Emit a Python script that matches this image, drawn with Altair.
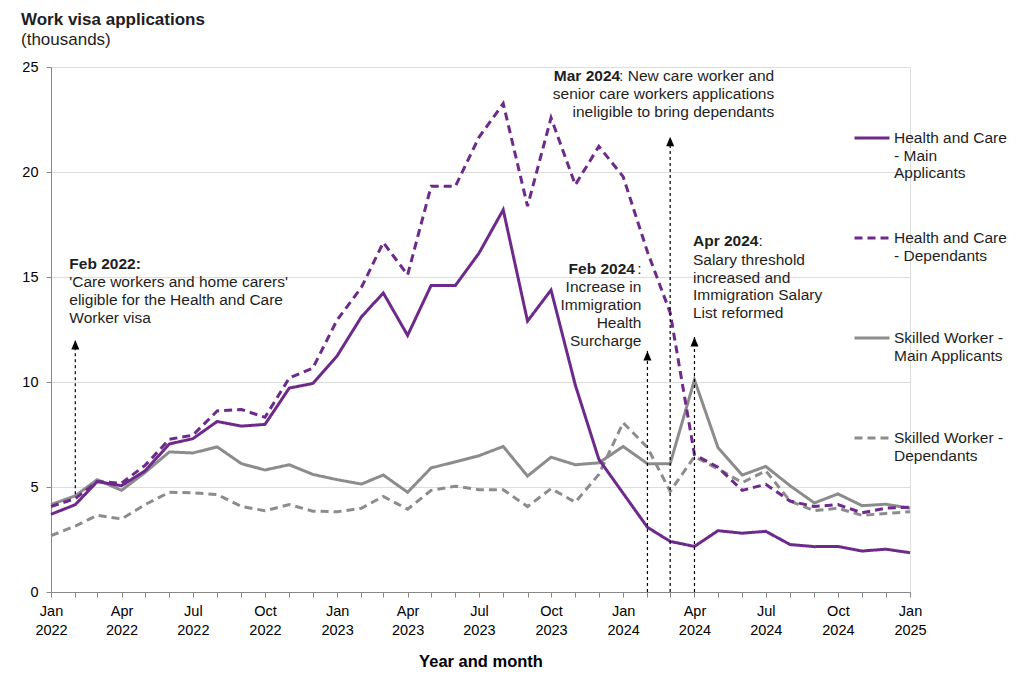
import altair as alt
import pandas as pd

FONT = "Liberation Sans"
PURPLE = "#6E2A8A"
GREY = "#8C8C8C"
TEXT = "#1e1e1e"

HC_MAIN = "Health and Care - Main Applicants"
HC_DEP = "Health and Care - Dependants"
SW_MAIN = "Skilled Worker - Main Applicants"
SW_DEP = "Skilled Worker - Dependants"

# monthly, Jan 2022 .. Jan 2025 (thousands)
hc_main = [3.70, 4.16, 5.26, 5.06, 5.77, 7.05, 7.30, 8.12, 7.90, 7.98, 9.71, 9.93,
           11.24, 13.10, 14.24, 12.22, 14.60, 14.60, 16.13, 18.20, 12.90, 14.38, 9.85, 6.32,
           4.70, 3.08, 2.41, 2.17, 2.92, 2.80, 2.89, 2.26, 2.16, 2.17, 1.95, 2.04,
           1.87]
hc_dep = [4.07, 4.45, 5.26, 5.18, 6.03, 7.27, 7.47, 8.62, 8.69, 8.32, 10.19, 10.66,
          12.95, 14.50, 16.64, 15.10, 19.32, 19.32, 21.65, 23.26, 18.37, 22.58, 19.39, 21.22,
          19.78, 16.20, 13.30, 6.54, 5.94, 4.84, 5.13, 4.33, 4.07, 4.16, 3.77, 3.99,
          4.04]
sw_main = [4.16, 4.58, 5.35, 4.84, 5.69, 6.67, 6.62, 6.91, 6.11, 5.81, 6.06, 5.60,
           5.35, 5.14, 5.57, 4.75, 5.91, 6.20, 6.49, 6.93, 5.52, 6.42, 6.06, 6.15,
           6.93, 6.11, 6.11, 10.10, 6.88, 5.57, 5.98, 5.06, 4.24, 4.67, 4.11, 4.18,
           3.99]
sw_dep = [2.68, 3.14, 3.65, 3.48, 4.16, 4.75, 4.72, 4.64, 4.07, 3.87, 4.16, 3.85,
          3.82, 3.99, 4.55, 3.94, 4.84, 5.04, 4.87, 4.87, 4.07, 4.92, 4.28, 5.60,
          8.06, 6.88, 4.79, 6.45, 5.86, 5.21, 5.77, 4.33, 3.87, 3.99, 3.65, 3.74,
          3.82]

months = pd.date_range("2022-01-01", "2025-01-01", freq="MS").strftime("%Y-%m-%dT00:00:00").tolist()

series_order = [HC_MAIN, HC_DEP, SW_MAIN, SW_DEP]
series_colors = [PURPLE, PURPLE, GREY, GREY]
series_dash = [[1, 0], [8, 5], [1, 0], [8, 5]]

# annotation events: date, arrow base value, arrow tip value
ann_dates = ["2022-02-01T00:00:00", "2024-02-01T00:00:00", "2024-03-01T00:00:00", "2024-04-01T00:00:00"]
ann_base = [4.65, 0, 0, 0]
ann_tip = [12.0, 11.48, 21.68, 12.14]

feb22_head = "Feb 2022:"
feb22_body = ["'Care workers and home carers'", "eligible for the Health and Care", "Worker visa"]
feb24_head = "Feb 2024"
feb24_body = ["Increase in", "Immigration", "Health", "Surcharge"]
mar24_head = "Mar 2024"
mar24_rest = ": New care worker and"
mar24_body = ["senior care workers applications", "ineligible to bring dependants"]
apr24_head = "Apr 2024"
apr24_body = ["Salary threshold", "increased and", "Immigration Salary", "List reformed"]

rows = []
for name, vals in [(SW_DEP, sw_dep), (SW_MAIN, sw_main), (HC_DEP, hc_dep), (HC_MAIN, hc_main)]:
    for m, v in zip(months, vals):
        rows.append({"date": m, "value": v, "series": name})
df = pd.DataFrame(rows)

x_scale = alt.Scale(domain=[alt.DateTime(year=2022, month=1, date=1),
                            alt.DateTime(year=2025, month=1, date=1)], nice=False)
y_scale = alt.Scale(domain=[0, 25], nice=False)

legend_expr = (
    f"datum.label == '{HC_MAIN}' ? ['Health and Care', '- Main', 'Applicants'] : "
    f"datum.label == '{HC_DEP}' ? ['Health and Care', '- Dependants'] : "
    f"datum.label == '{SW_MAIN}' ? ['Skilled Worker -', 'Main Applicants'] : "
    f"['Skilled Worker -', 'Dependants']"
)
legend = alt.Legend(title=None, orient="none", legendX=802, legendY=21, clipHeight=100,
                    rowPadding=0, padding=0, symbolType="stroke", symbolStrokeWidth=3,
                    symbolSize=1225, labelFontSize=15.5, labelFont=FONT, labelColor=TEXT,
                    labelOffset=3, labelExpr=legend_expr, labelBaseline="middle", labelLimit=220)

x_axis = alt.Axis(title="Year and month", tickCount={"interval": "month", "step": 1},
                  labelExpr="month(datum.value) % 3 == 0 ? [timeFormat(datum.value, '%b'), timeFormat(datum.value, '%Y')] : ''",
                  labelOverlap=False, labelFlush=False, labelBound=False, grid=False,
                  tickSize=5, labelPadding=7, labelLineHeight=19, labelFontSize=14.5,
                  titleFontSize=16.5, titleFontWeight="bold", titlePadding=17)
y_axis = alt.Axis(title=None, values=[0, 5, 10, 15, 20, 25], tickSize=5, labelPadding=8,
                  labelFontSize=14.5, grid=True)

lines = alt.Chart(df).mark_line(strokeWidth=3).encode(
    x=alt.X("date:T", scale=x_scale, axis=x_axis),
    y=alt.Y("value:Q", scale=y_scale, axis=y_axis),
    color=alt.Color("series:N", scale=alt.Scale(domain=series_order, range=series_colors), legend=legend),
    strokeDash=alt.StrokeDash("series:N", scale=alt.Scale(domain=series_order, range=series_dash), legend=legend),
)

ann = pd.DataFrame({"date": ann_dates, "base": ann_base, "tip": ann_tip})
arrows = alt.Chart(ann).mark_rule(color="black", strokeWidth=1.2, strokeDash=[3, 3]).encode(
    x="date:T", y="base:Q", y2="tip:Q")
heads = alt.Chart(ann).mark_point(shape="M0,0L0.8,1.9L-0.8,1.9Z", size=100, filled=True,
                                  color="black", opacity=1, strokeWidth=0).encode(
    x="date:T", y="tip:Q")


def txt(date, y, text, align, bold, dx):
    d = pd.DataFrame({"date": [date], "y": [y], "text": [text]})
    return alt.Chart(d).mark_text(align=align, baseline="alphabetic", dx=dx, font=FONT,
                                  fontSize=15.5, fontWeight="bold" if bold else "normal",
                                  color=TEXT, lineBreak="\n", lineHeight=17.8).encode(
        x="date:T", y="y:Q", text="text:N")


texts = [
    txt(ann_dates[0], 15.36, feb22_head, "left", True, -6),
    txt(ann_dates[0], 14.52, "\n".join(feb22_body), "left", False, -6),
    txt(ann_dates[1], 15.15, feb24_head, "right", True, -12.5),
    txt(ann_dates[1], 15.15, ":", "right", False, -6),
    txt(ann_dates[1], 14.28, "\n".join(feb24_body), "right", False, -6),
    txt(ann_dates[2], 24.31, mar24_head, "right", True, -50),
    txt(ann_dates[2], 24.31, mar24_rest, "right", False, 104),
    txt(ann_dates[2], 23.49, "\n".join(mar24_body), "right", False, 104),
    txt(ann_dates[3], 16.46, apr24_head, "left", True, -1.5),
    txt(ann_dates[3], 16.46, ":", "left", False, 64),
    txt(ann_dates[3], 15.58, "\n".join(apr24_body), "left", False, -1.5),
]

chart = alt.layer(lines, arrows, heads, *texts).properties(
    width=859, height=525,
    autosize=alt.AutoSizeParams(type="none"),
    padding={"left": 51, "top": 67, "right": 114, "bottom": 92},
    title=alt.TitleParams(text="Work visa applications", subtitle="(thousands)", anchor="start",
                          frame="group", dx=-30, offset=10, fontSize=17, subtitleFontSize=17,
                          font=FONT, subtitleFont=FONT, fontWeight="bold", color=TEXT,
                          subtitleColor=TEXT, subtitlePadding=3),
).configure_view(stroke=None).configure_axis(
    labelFont=FONT, titleFont=FONT, labelColor=TEXT, titleColor=TEXT,
    domainColor="#9a9a9a", tickColor="#9a9a9a", gridColor="#ebebeb", domainWidth=1.3,
    tickWidth=1.2,
).configure(background="white")

chart.save("out.html", embed_options={"renderer": "svg", "actions": False})
